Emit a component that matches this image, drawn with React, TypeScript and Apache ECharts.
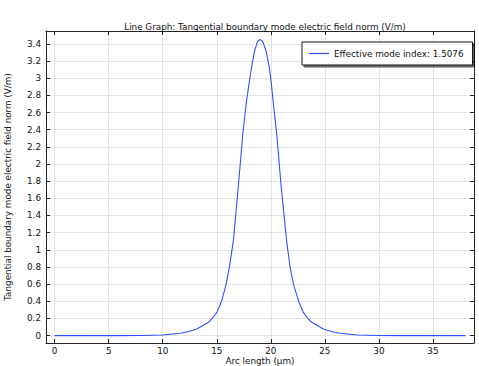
import React, { useEffect, useRef } from "react";
import * as echarts from "echarts";

const arcLength: number[] = [
  0, 3, 6, 8, 10, 11.62, 12.4, 13.16, 14.23, 14.6, 15.01, 15.47, 15.87, 16.17, 16.54, 17.0, 17.41, 17.72,
  18.0, 18.24, 18.48, 18.75, 18.88, 19.01, 19.14, 19.28, 19.57, 19.84, 20.04, 20.24, 20.55, 20.95, 21.46, 21.78, 22.09,
  22.55, 23.01, 23.4, 23.79, 24.86, 25.6, 26.4, 28, 30, 32, 35, 38,
];
const fieldNorm: number[] = [
  0, 0, 0.0005, 0.002, 0.007, 0.027, 0.048, 0.078, 0.155, 0.205, 0.27, 0.41, 0.6, 0.8, 1.11, 1.75, 2.35, 2.7,
  2.95, 3.14, 3.31, 3.42, 3.44, 3.45, 3.44, 3.42, 3.31, 3.14, 2.95, 2.7, 2.35, 1.75, 1.11, 0.8, 0.6,
  0.41, 0.27, 0.205, 0.155, 0.078, 0.048, 0.027, 0.008, 0.002, 0.0005, 0, 0,
];
const xTicks: number[] = [0, 5, 10, 15, 20, 25, 30, 35];
const yTicks: number[] = [0, 0.2, 0.4, 0.6, 0.8, 1, 1.2, 1.4, 1.6, 1.8, 2, 2.2, 2.4, 2.6, 2.8, 3, 3.2, 3.4];
const yTickLabels: string[] = ["0", "0.2", "0.4", "0.6", "0.8", "1", "1.2", "1.4", "1.6", "1.8", "2", "2.2", "2.4", "2.6", "2.8", "3", "3.2", "3.4"];
const seriesName = "Effective mode index: 1.5076";
const titleText = "Line Graph: Tangential boundary mode electric field norm (V/m)";
const xName = "Arc length (µm)";
const yName = "Tangential boundary mode electric field norm (V/m)";

const FONT = "DejaVu Sans";
const FS = 8.8;
const FRAME = "#222";
const LINE = "#3050ff";

export default function App() {
  const ref = useRef<HTMLDivElement>(null);
  useEffect(() => {
    if (!ref.current) return;
    const chart = echarts.init(ref.current, null, { renderer: "svg" });
    const data = arcLength.map((x, i) => [x, fieldNorm[i]]);
    const yLabel = (v: number) => {
      const idx = yTicks.findIndex((t) => Math.abs(t - v) < 1e-6);
      return idx >= 0 ? yTickLabels[idx] : "";
    };
    chart.setOption({
      animation: false,
      backgroundColor: "#fff",
      textStyle: { fontFamily: FONT },
      title: {
        text: titleText,
        left: 260,
        textAlign: "center",
        top: 17,
        textStyle: { fontFamily: FONT, fontSize: FS, fontWeight: "normal", color: "#111" },
      },
      legend: {
        left: 302,
        top: 42,
        orient: "vertical",
        padding: [6, 9, 6, 7],
        itemWidth: 20,
        itemHeight: 1.2,
        borderColor: "#111",
        borderWidth: 1,
        borderRadius: 0,
        backgroundColor: "#fff",
        shadowColor: "rgba(0,0,0,0.6)",
        shadowBlur: 0,
        shadowOffsetX: 2,
        shadowOffsetY: 2,
        textStyle: { fontFamily: FONT, fontSize: FS, color: "#111", lineHeight: 11 },
        data: [{ name: seriesName, icon: "rect", itemStyle: { color: LINE } }],
      },
      grid: { left: 46, top: 31, right: 5, bottom: 23, containLabel: false, outerBoundsMode: "none" },
      xAxis: [
        {
          type: "value",
          min: -0.8,
          max: 38.8,
          position: "bottom",
          name: xName,
          nameLocation: "middle",
          nameGap: 13,
          nameMoveOverlap: false,
          nameTextStyle: { fontFamily: FONT, fontSize: FS, color: "#111" },
          axisLine: { show: true, onZero: false, lineStyle: { color: FRAME, width: 1 } },
          axisTick: { show: true, inside: true, length: 4, customValues: xTicks, lineStyle: { color: FRAME } },
          axisLabel: { show: true, customValues: xTicks, margin: 3, fontFamily: FONT, fontSize: FS, color: "#111" },
          splitLine: { show: true, customValues: xTicks, lineStyle: { color: "#e4e4e4", width: 1 } },
        },
        {
          type: "value",
          min: -0.8,
          max: 38.8,
          position: "top",
          axisLine: { show: true, onZero: false, lineStyle: { color: FRAME, width: 1 } },
          axisTick: { show: true, inside: true, length: 4, customValues: xTicks, lineStyle: { color: FRAME } },
          axisLabel: { show: false },
          splitLine: { show: false },
        },
      ],
      yAxis: [
        {
          type: "value",
          min: -0.086,
          max: 3.55,
          position: "left",
          name: yName,
          nameLocation: "middle",
          nameRotate: 90,
          nameGap: 34,
          nameMoveOverlap: false,
          nameTextStyle: { fontFamily: FONT, fontSize: FS, color: "#111" },
          axisLine: { show: true, onZero: false, lineStyle: { color: FRAME, width: 1 } },
          axisTick: { show: true, inside: true, length: 4, customValues: yTicks, lineStyle: { color: FRAME } },
          axisLabel: { show: true, customValues: yTicks, margin: 5, formatter: yLabel, fontFamily: FONT, fontSize: FS, color: "#111" },
          splitLine: { show: true, customValues: yTicks, lineStyle: { color: "#e4e4e4", width: 1 } },
        },
        {
          type: "value",
          min: -0.086,
          max: 3.55,
          position: "right",
          axisLine: { show: true, onZero: false, lineStyle: { color: FRAME, width: 1 } },
          axisTick: { show: true, inside: true, length: 4, customValues: yTicks, lineStyle: { color: FRAME } },
          axisLabel: { show: false },
          splitLine: { show: false },
        },
      ],
      series: [
        {
          name: seriesName,
          type: "line",
          data,
          xAxisIndex: 0,
          yAxisIndex: 0,
          symbol: "none",
          smooth: false,
          lineStyle: { color: LINE, width: 1.1 },
          itemStyle: { color: LINE },
        },
      ],
    });
    return () => chart.dispose();
  }, []);
  return <div ref={ref} style={{ position: "absolute", left: 0, top: 0, width: 479, height: 366 }} />;
}
